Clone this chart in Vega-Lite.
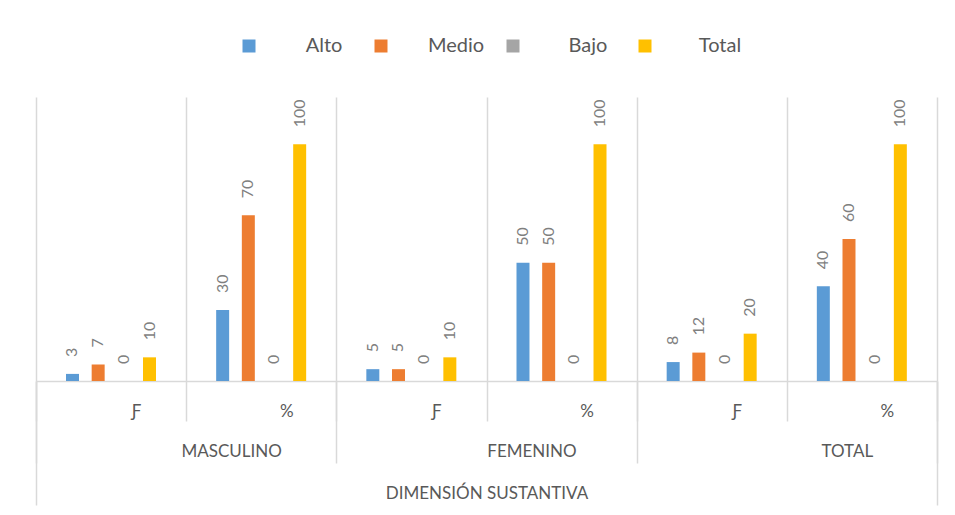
{
  "$schema": "https://vega.github.io/schema/vega-lite/v6.json",
  "width": 901,
  "height": 284,
  "autosize": {"type": "none"},
  "padding": {"left": 36, "top": 97, "right": 18, "bottom": 134},
  "background": "#FFFFFF",
  "config": {
    "font": "Lato, DejaVu Sans",
    "view": {"stroke": null}
  },
  "data": {
    "values": [
      {"dimension": "DIMENSIÓN SUSTANTIVA", "genero": "MASCULINO", "grupo": "MASCULINO|Ƒ", "nivel": "Alto", "valor": 3},
      {"dimension": "DIMENSIÓN SUSTANTIVA", "genero": "MASCULINO", "grupo": "MASCULINO|Ƒ", "nivel": "Medio", "valor": 7},
      {"dimension": "DIMENSIÓN SUSTANTIVA", "genero": "MASCULINO", "grupo": "MASCULINO|Ƒ", "nivel": "Bajo", "valor": 0},
      {"dimension": "DIMENSIÓN SUSTANTIVA", "genero": "MASCULINO", "grupo": "MASCULINO|Ƒ", "nivel": "Total", "valor": 10},
      {"dimension": "DIMENSIÓN SUSTANTIVA", "genero": "MASCULINO", "grupo": "MASCULINO|%", "nivel": "Alto", "valor": 30},
      {"dimension": "DIMENSIÓN SUSTANTIVA", "genero": "MASCULINO", "grupo": "MASCULINO|%", "nivel": "Medio", "valor": 70},
      {"dimension": "DIMENSIÓN SUSTANTIVA", "genero": "MASCULINO", "grupo": "MASCULINO|%", "nivel": "Bajo", "valor": 0},
      {"dimension": "DIMENSIÓN SUSTANTIVA", "genero": "MASCULINO", "grupo": "MASCULINO|%", "nivel": "Total", "valor": 100},
      {"dimension": "DIMENSIÓN SUSTANTIVA", "genero": "FEMENINO", "grupo": "FEMENINO|Ƒ", "nivel": "Alto", "valor": 5},
      {"dimension": "DIMENSIÓN SUSTANTIVA", "genero": "FEMENINO", "grupo": "FEMENINO|Ƒ", "nivel": "Medio", "valor": 5},
      {"dimension": "DIMENSIÓN SUSTANTIVA", "genero": "FEMENINO", "grupo": "FEMENINO|Ƒ", "nivel": "Bajo", "valor": 0},
      {"dimension": "DIMENSIÓN SUSTANTIVA", "genero": "FEMENINO", "grupo": "FEMENINO|Ƒ", "nivel": "Total", "valor": 10},
      {"dimension": "DIMENSIÓN SUSTANTIVA", "genero": "FEMENINO", "grupo": "FEMENINO|%", "nivel": "Alto", "valor": 50},
      {"dimension": "DIMENSIÓN SUSTANTIVA", "genero": "FEMENINO", "grupo": "FEMENINO|%", "nivel": "Medio", "valor": 50},
      {"dimension": "DIMENSIÓN SUSTANTIVA", "genero": "FEMENINO", "grupo": "FEMENINO|%", "nivel": "Bajo", "valor": 0},
      {"dimension": "DIMENSIÓN SUSTANTIVA", "genero": "FEMENINO", "grupo": "FEMENINO|%", "nivel": "Total", "valor": 100},
      {"dimension": "DIMENSIÓN SUSTANTIVA", "genero": "TOTAL", "grupo": "TOTAL|Ƒ", "nivel": "Alto", "valor": 8},
      {"dimension": "DIMENSIÓN SUSTANTIVA", "genero": "TOTAL", "grupo": "TOTAL|Ƒ", "nivel": "Medio", "valor": 12},
      {"dimension": "DIMENSIÓN SUSTANTIVA", "genero": "TOTAL", "grupo": "TOTAL|Ƒ", "nivel": "Bajo", "valor": 0},
      {"dimension": "DIMENSIÓN SUSTANTIVA", "genero": "TOTAL", "grupo": "TOTAL|Ƒ", "nivel": "Total", "valor": 20},
      {"dimension": "DIMENSIÓN SUSTANTIVA", "genero": "TOTAL", "grupo": "TOTAL|%", "nivel": "Alto", "valor": 40},
      {"dimension": "DIMENSIÓN SUSTANTIVA", "genero": "TOTAL", "grupo": "TOTAL|%", "nivel": "Medio", "valor": 60},
      {"dimension": "DIMENSIÓN SUSTANTIVA", "genero": "TOTAL", "grupo": "TOTAL|%", "nivel": "Bajo", "valor": 0},
      {"dimension": "DIMENSIÓN SUSTANTIVA", "genero": "TOTAL", "grupo": "TOTAL|%", "nivel": "Total", "valor": 100}
    ]
  },
  "layer": [
    {
      "mark": {"type": "bar"},
      "encoding": {
        "x": {
          "field": "grupo", "type": "nominal",
          "sort": ["MASCULINO|Ƒ", "MASCULINO|%", "FEMENINO|Ƒ", "FEMENINO|%", "TOTAL|Ƒ", "TOTAL|%"],
          "scale": {"paddingInner": 0, "paddingOuter": 0},
          "axis": {
            "orient": "bottom",
            "title": null,
            "labelExpr": "split(datum.value, '|')[1]",
            "labelAngle": 0,
            "tickBand": "extent",
            "tickSize": 40,
            "tickColor": "#D9D9D9",
            "tickWidth": 1.5,
            "grid": true,
            "gridColor": "#D9D9D9",
            "gridWidth": 1.5,
            "domainColor": "#D9D9D9",
            "domainWidth": 1.5,
            "labelPadding": -18,
            "labelOffset": 25,
            "labelFontSize": 17,
            "labelColor": "#595959",
            "labelBaseline": "top",
            "labelLimit": 0
          }
        },
        "xOffset": {
          "field": "nivel", "type": "nominal",
          "sort": ["Alto", "Medio", "Bajo", "Total"],
          "scale": {"range": [30, 120], "paddingInner": 0.494, "paddingOuter": 0}
        },
        "y": {
          "field": "valor", "type": "quantitative",
          "scale": {"domain": [0, 120], "nice": false},
          "axis": null
        },
        "color": {
          "field": "nivel", "type": "nominal",
          "sort": ["Alto", "Medio", "Bajo", "Total"],
          "scale": {"domain": ["Alto", "Medio", "Bajo", "Total"], "range": ["#5B9BD5", "#ED7D31", "#A5A5A5", "#FFC000"]},
          "legend": {
            "title": null,
            "orient": "none",
            "legendX": 203,
            "legendY": -61,
            "direction": "horizontal",
            "symbolType": "square",
            "symbolSize": 169,
            "symbolStrokeWidth": 0,
            "symbolOpacity": 1,
            "labelAlign": "center",
            "labelOffset": 65,
            "labelFontSize": 20,
            "labelColor": "#595959",
            "labelLimit": 0,
            "gridAlign": "all",
            "columnPadding": 18,
            "padding": 0
          }
        }
      }
    },
    {
      "mark": {"type": "text", "angle": 270, "align": "left", "baseline": "middle", "dx": 17, "fontSize": 16, "color": "#7F7F7F"},
      "encoding": {
        "x": {
          "field": "grupo", "type": "nominal",
          "sort": ["MASCULINO|Ƒ", "MASCULINO|%", "FEMENINO|Ƒ", "FEMENINO|%", "TOTAL|Ƒ", "TOTAL|%"],
          "scale": {"paddingInner": 0, "paddingOuter": 0},
          "axis": null
        },
        "xOffset": {
          "field": "nivel", "type": "nominal",
          "sort": ["Alto", "Medio", "Bajo", "Total"],
          "scale": {"range": [30, 120], "paddingInner": 0.494, "paddingOuter": 0}
        },
        "y": {"field": "valor", "type": "quantitative"},
        "text": {"field": "valor", "type": "quantitative"}
      }
    },
    {
      "mark": {"type": "bar", "opacity": 0},
      "encoding": {
        "x": {
          "field": "genero", "type": "nominal",
          "sort": ["MASCULINO", "FEMENINO", "TOTAL"],
          "scale": {"paddingInner": 0, "paddingOuter": 0},
          "axis": {
            "orient": "bottom",
            "title": null,
            "labelAngle": 0,
            "tickBand": "extent",
            "tickSize": 82,
            "tickColor": "#D9D9D9",
            "tickWidth": 1.5,
            "grid": false,
            "domain": false,
            "labelPadding": -20,
            "labelOffset": {"condition": {"test": "datum.value === 'TOTAL'", "value": 60}, "value": 45},
            "labelFontSize": 17,
            "labelColor": "#595959",
            "labelBaseline": "top",
            "labelLimit": 0
          }
        },
        "y": {"field": "valor", "type": "quantitative"}
      }
    },
    {
      "mark": {"type": "bar", "opacity": 0},
      "encoding": {
        "x": {
          "field": "dimension", "type": "nominal",
          "scale": {"paddingInner": 0, "paddingOuter": 0},
          "axis": {
            "orient": "bottom",
            "title": null,
            "labelAngle": 0,
            "tickBand": "extent",
            "tickSize": 124,
            "tickColor": "#D9D9D9",
            "tickWidth": 1.5,
            "grid": false,
            "domain": false,
            "labelPadding": -20,
            "labelFontSize": 17,
            "labelColor": "#595959",
            "labelBaseline": "top",
            "labelLimit": 0
          }
        },
        "y": {"field": "valor", "type": "quantitative"}
      }
    }
  ],
  "resolve": {"scale": {"x": "independent"}, "axis": {"x": "independent"}}
}
